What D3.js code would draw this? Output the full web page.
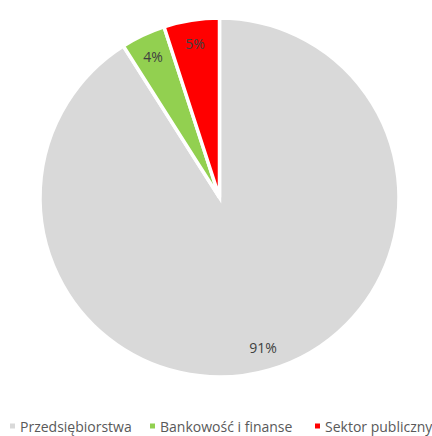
<!DOCTYPE html>
<html>
<head>
<meta charset="utf-8">
<script src="https://cdn.jsdelivr.net/npm/d3@7"></script>
<style>
  html, body { margin: 0; padding: 0; background: #fff; }
  svg { display: block; }
</style>
</head>
<body>
<svg id="chart" width="432" height="436"></svg>
<script>
// Sector shares (percent)
const categories = ["Przedsiębiorstwa", "Bankowość i finanse", "Sektor publiczny"];
const shares = [91, 4, 5];
const colors = ["#d9d9d9", "#92d050", "#ff0000"];

const svg = d3.select("#chart");
const cx = 219.5, cy = 197.5, radius = 179.5;
const font = "'Open Sans', 'Liberation Sans', Arial, sans-serif";

const data = categories.map((c, i) => ({ name: c, value: shares[i], color: colors[i] }));

const pie = d3.pie().sort(null).value(d => d.value);
const arc = d3.arc().innerRadius(0).outerRadius(radius);
const labelArc = d3.arc().innerRadius(radius * 0.87).outerRadius(radius * 0.87);

const g = svg.append("g").attr("transform", `translate(${cx},${cy})`);
const arcs = pie(data);

g.selectAll("path.slice")
  .data(arcs)
  .join("path")
  .attr("class", "slice")
  .attr("d", arc)
  .attr("fill", d => d.data.color)
  .attr("stroke", "#ffffff")
  .attr("stroke-width", 3.5)
  .attr("stroke-linejoin", "miter");

g.selectAll("text.pct")
  .data(arcs)
  .join("text")
  .attr("class", "pct")
  .attr("transform", d => `translate(${labelArc.centroid(d)})`)
  .attr("text-anchor", "middle")
  .attr("dominant-baseline", "central")
  .attr("font-family", font)
  .attr("font-size", 14)
  .attr("fill", "#404040")
  .text(d => d.data.value + "%");

// Legend along the bottom
const legendX = [10, 150, 315];
const legend = svg.append("g").attr("transform", "translate(0,426)");
const items = legend.selectAll("g.item")
  .data(data)
  .join("g")
  .attr("class", "item")
  .attr("transform", (d, i) => `translate(${legendX[i]},0)`);

items.append("rect")
  .attr("x", 0).attr("y", -2.5)
  .attr("width", 5).attr("height", 5)
  .attr("fill", d => d.color);

items.append("text")
  .attr("x", 10)
  .attr("dominant-baseline", "central")
  .attr("font-family", font)
  .attr("font-size", 14)
  .attr("fill", "#595959")
  .text(d => d.name);
</script>
</body>
</html>
